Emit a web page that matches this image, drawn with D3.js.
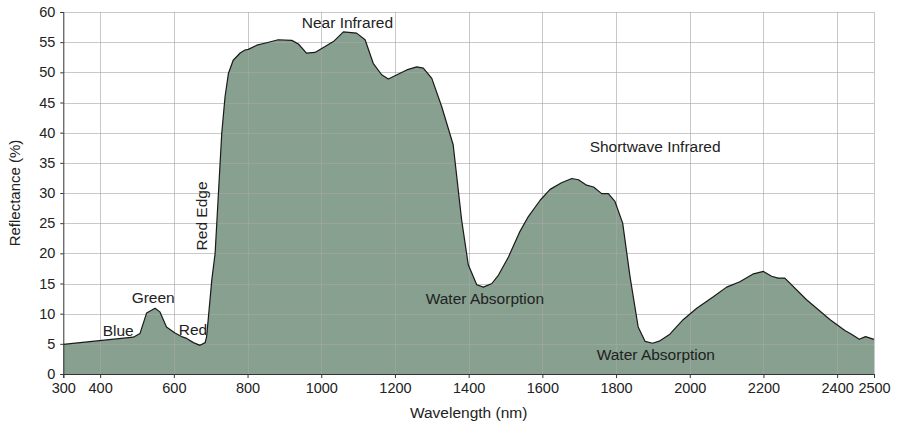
<!DOCTYPE html>
<html>
<head>
<meta charset="utf-8">
<script src="https://d3js.org/d3.v7.min.js"></script>
<style>
    body { margin: 0; background: #fff; }
    text { font-family: "Liberation Sans", Arial, sans-serif; fill: #222; }
</style>
</head>
<body>
<svg id="chart" width="898" height="427"></svg>
<script>
// wavelength (nm) and reflectance (%)
const wavelength = [300, 490, 508, 526, 549, 562, 580, 603, 621, 635, 653, 671, 685, 689, 703, 712, 730, 739, 748, 761, 780, 793, 802, 825, 852, 883, 920, 938, 960, 983, 1033, 1060, 1096, 1119, 1141, 1164, 1182, 1232, 1259, 1277, 1300, 1327, 1358, 1381, 1399, 1422, 1440, 1463, 1481, 1508, 1539, 1562, 1594, 1621, 1652, 1680, 1698, 1720, 1739, 1761, 1779, 1797, 1818, 1838, 1860, 1879, 1899, 1919, 1946, 1982, 2019, 2064, 2100, 2136, 2173, 2200, 2222, 2240, 2258, 2317, 2381, 2421, 2439, 2460, 2477, 2500];
const reflectance = [4.9, 6.1, 6.7, 10.1, 10.9, 10.3, 7.8, 6.8, 6.2, 5.9, 5.2, 4.75, 5.2, 6.2, 15.6, 20, 39.9, 46, 49.8, 52, 53.2, 53.7, 53.8, 54.5, 54.9, 55.4, 55.3, 54.7, 53.2, 53.3, 55.1, 56.7, 56.5, 55.4, 51.5, 49.6, 48.9, 50.4, 50.9, 50.7, 49.0, 44.3, 38.0, 25.5, 18.1, 14.8, 14.4, 15.0, 16.4, 19.4, 23.6, 26.1, 28.8, 30.6, 31.7, 32.4, 32.2, 31.3, 31.0, 29.9, 29.9, 28.6, 25.0, 16.1, 7.8, 5.4, 5.1, 5.5, 6.6, 9.0, 10.9, 12.8, 14.4, 15.3, 16.6, 17.0, 16.2, 15.9, 15.9, 12.3, 9.0, 7.2, 6.6, 5.75, 6.2, 5.75];

const xTicks = [300, 400, 600, 800, 1000, 1200, 1400, 1600, 1800, 2000, 2200, 2400, 2500];
const xGrid = [400, 600, 800, 1000, 1200, 1400, 1600, 1800, 2000, 2200, 2400, 2500];
const yTicks = [0, 5, 10, 15, 20, 25, 30, 35, 40, 45, 50, 55, 60];

// region labels: [wavelength, reflectance] of each label's anchor
const regionLabels = ["Blue", "Green", "Red", "Near Infrared", "Shortwave Infrared", "Water Absorption", "Water Absorption"];
const labelAt = [[449, 6.3], [544, 11.8], [652, 6.5], [1071, 57.3], [1906, 36.8], [1444, 11.6], [1908, 2.3]];

const data = wavelength.map((w, i) => ({w: w, r: reflectance[i]}));

const svg = d3.select("#chart");
const mLeft = 63.3, mRight = 874, mTop = 12, mBottom = 374;
const x = d3.scaleLinear().domain([300, 2500]).range([mLeft, mRight]);
const y = d3.scaleLinear().domain([0, 60]).range([mBottom, mTop]);

// filled spectrum
svg.append("path")
    .datum(data)
    .attr("fill", "#87a08f")
    .attr("d", d3.area().x(d => x(d.w)).y0(y(0)).y1(d => y(d.r)));

// grid on top, semi transparent so it shows lighter through the fill
const grid = svg.append("g").attr("stroke", "rgb(168,168,168)").attr("stroke-opacity", 0.62).attr("stroke-width", 1);
grid.selectAll("line.v").data(xGrid).join("line")
    .attr("x1", d => Math.round(x(d)) + 0.5).attr("x2", d => Math.round(x(d)) + 0.5)
    .attr("y1", mTop).attr("y2", mBottom);
grid.selectAll("line.h").data(yTicks.slice(1)).join("line")
    .attr("x1", mLeft).attr("x2", mRight)
    .attr("y1", d => Math.round(y(d)) + 0.5).attr("y2", d => Math.round(y(d)) + 0.5);

svg.append("path")
    .datum(data)
    .attr("fill", "none")
    .attr("stroke", "#1a1a1a")
    .attr("stroke-width", 1.2)
    .attr("stroke-linejoin", "round")
    .attr("d", d3.line().x(d => x(d.w)).y(d => y(d.r)));

// axes
const xAxis = svg.append("g").attr("transform", `translate(0,${mBottom})`)
    .call(d3.axisBottom(x).tickValues(xTicks).tickSize(4).tickPadding(5).tickFormat(d3.format("d")));
const yAxis = svg.append("g").attr("transform", `translate(${mLeft},0)`)
    .call(d3.axisLeft(y).tickValues(yTicks).tickSize(3).tickPadding(5));
[xAxis, yAxis].forEach(a => {
    a.select(".domain").attr("stroke", "#333");
    a.selectAll(".tick line").attr("stroke", "#333");
    a.selectAll(".tick text").attr("font-size", 14.5).attr("fill", "#222")
        .style("font-family", "'Liberation Sans', Arial, sans-serif");
});

svg.append("text").attr("x", (mLeft + mRight) / 2).attr("y", 418)
    .attr("text-anchor", "middle").attr("font-size", 15.5).text("Wavelength (nm)");
svg.append("text").attr("transform", `translate(20,${(mTop + mBottom) / 2}) rotate(-90)`)
    .attr("text-anchor", "middle").attr("font-size", 15).text("Reflectance (%)");

svg.selectAll("text.region").data(regionLabels).join("text")
    .attr("class", "region")
    .attr("x", (d, i) => x(labelAt[i][0]))
    .attr("y", (d, i) => y(labelAt[i][1]))
    .attr("text-anchor", "middle").attr("font-size", 15.5)
    .text(d => d);

svg.append("text")
    .attr("transform", `translate(${x(690)},${y(26.2)}) rotate(-90)`)
    .attr("text-anchor", "middle").attr("font-size", 15.5).text("Red Edge");
</script>
</body>
</html>
